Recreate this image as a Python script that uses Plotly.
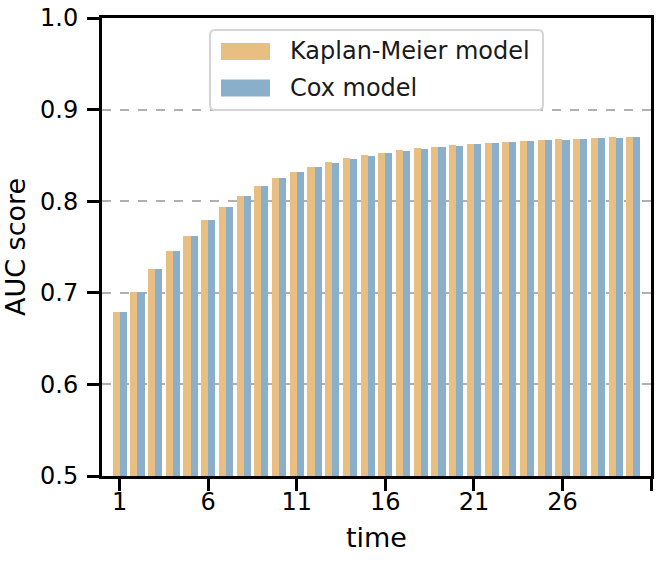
import plotly.graph_objects as go

times = list(range(1, 31))
km_auc = [0.679, 0.701, 0.726, 0.746, 0.762, 0.7795, 0.794, 0.806, 0.817, 0.825,
          0.832, 0.837, 0.843, 0.847, 0.850, 0.853, 0.856, 0.858, 0.859, 0.861,
          0.862, 0.8635, 0.8646, 0.8657, 0.8668, 0.868, 0.868, 0.869, 0.870, 0.870]
cox_auc = [0.679, 0.701, 0.726, 0.746, 0.762, 0.7795, 0.794, 0.806, 0.817, 0.825,
           0.832, 0.837, 0.842, 0.846, 0.849, 0.853, 0.855, 0.857, 0.859, 0.860,
           0.862, 0.8635, 0.8646, 0.8657, 0.8668, 0.867, 0.868, 0.869, 0.869, 0.870]
series_names = ["Kaplan-Meier model", "Cox model"]
colors = ["#e8bf80", "#8aafca"]
x_tickvals = [1, 6, 11, 16, 21, 26, 31]
x_ticktext = ["1", "6", "11", "16", "21", "26", ""]
y_tickvals = [0.5, 0.6, 0.7, 0.8, 0.9, 1.0]

FONT = "DejaVu Sans"

fig = go.Figure()
fig.add_trace(go.Bar(x=times, y=km_auc, width=0.4, offset=-0.4, name=series_names[0],
                     marker=dict(color=colors[0], line=dict(width=0)), base=0))
fig.add_trace(go.Bar(x=times, y=cox_auc, width=0.4, offset=0.0, name=series_names[1],
                     marker=dict(color=colors[1], line=dict(width=0)), base=0))

W, H = 662, 562
L, T = 102, 18
R = W - 651
B = H - 476
pw, ph = W - L - R, H - T - B


def px(xp):
    return (xp - L) / pw


def py(yp):
    return (H - B - yp) / ph


# custom legend (rounded box + wide patches)
x0, x1, y0, y1, r = 210, 543, 30, 110, 5
rx, ry = r / pw, r / ph
path = (f"M {px(x0)+rx},{py(y0)} L {px(x1)-rx},{py(y0)} Q {px(x1)},{py(y0)} {px(x1)},{py(y0)-ry} "
        f"L {px(x1)},{py(y1)+ry} Q {px(x1)},{py(y1)} {px(x1)-rx},{py(y1)} "
        f"L {px(x0)+rx},{py(y1)} Q {px(x0)},{py(y1)} {px(x0)},{py(y1)+ry} "
        f"L {px(x0)},{py(y0)-ry} Q {px(x0)},{py(y0)} {px(x0)+rx},{py(y0)} Z")
shapes = [dict(type="path", xref="paper", yref="paper", path=path,
               fillcolor="rgba(255,255,255,0.85)", line=dict(color="#d5d5d5", width=2), layer="above")]
annotations = []
for i, (name, col) in enumerate(zip(series_names, colors)):
    cy = 51.5 + i * 36.5
    shapes.append(dict(type="rect", xref="paper", yref="paper",
                       x0=px(221), x1=px(270), y0=py(cy - 8.5), y1=py(cy + 8.5),
                       fillcolor=col, line=dict(width=0), layer="above"))
    annotations.append(dict(xref="paper", yref="paper", x=px(288), y=py(cy), text=name,
                            showarrow=False, xanchor="left", yanchor="middle",
                            font=dict(family=FONT, size=24, color="#1a1a1a")))

fig.update_layout(
    width=W, height=H,
    margin=dict(l=L, r=R, t=T, b=B, pad=0, autoexpand=False),
    paper_bgcolor="white", plot_bgcolor="white",
    showlegend=False,
    bargap=0, barmode="overlay",
    font=dict(family=FONT, size=24, color="black"),
    shapes=shapes, annotations=annotations,
)
fig.update_xaxes(
    range=[0, 31], tickvals=x_tickvals, ticktext=x_ticktext,
    showline=True, linewidth=3, linecolor="black", mirror=True,
    ticks="outside", ticklen=12, tickwidth=3, tickcolor="black",
    showgrid=False, zeroline=False, automargin=False, ticklabelstandoff=-10,
    ticklabeloverflow="allow",
    title=dict(text="time", font=dict(family=FONT, size=27), standoff=14),
    tickfont=dict(family=FONT, size=24),
)
fig.update_yaxes(
    range=[0.5, 1.0], tickvals=y_tickvals, tickformat=".1f",
    showline=True, linewidth=3, linecolor="black", mirror=True,
    ticks="outside", ticklen=12, tickwidth=3, tickcolor="black",
    showgrid=True, gridcolor="#b0b0b0", gridwidth=1.5, griddash="dash",
    zeroline=False, layer="above traces", automargin=False, ticklabelstandoff=4,
    ticklabeloverflow="allow",
    title=dict(text="AUC score", font=dict(family=FONT, size=27), standoff=11),
    tickfont=dict(family=FONT, size=24),
)

fig.write_html("out.html", config={"displayModeBar": False},
               post_script="document.body.style.margin='0';")
